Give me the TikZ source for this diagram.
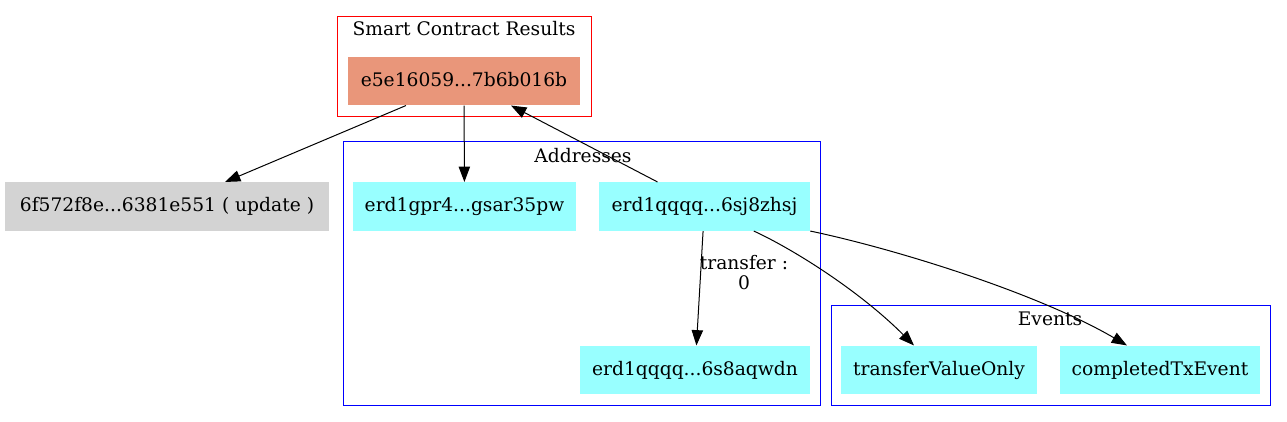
\documentclass[tikz,border=0pt]{standalone}
\usepackage{fontspec}
\setmainfont{DejaVu Serif}
\usetikzlibrary{arrows.meta}
\definecolor{salmonfill}{RGB}{233,150,122}
\definecolor{cyanfill}{RGB}{152,255,255}
\definecolor{grayfill}{RGB}{211,211,211}
\tikzset{
  box/.style={draw=none, inner sep=0pt, minimum height=36.4pt, text height=10.5pt, text depth=3pt, font=\fontsize{14}{15}\selectfont},
  addr/.style={box, fill=cyanfill},
  cluster/.style={line width=0.75pt},
  ctitle/.style={anchor=base, inner sep=0pt, font=\fontsize{14}{15}\selectfont},
  edgeline/.style={line width=0.75pt, -{Triangle[length=11.5pt,width=8.5pt]}},
}
\begin{document}
\begin{tikzpicture}[x=0.75pt,y=-0.75pt]
\useasboundingbox (0,0) rectangle (1287,421);
% clusters
\draw[cluster, draw=red] (337,16) rectangle (591,116);
\node[ctitle] (tscr) at (464,36) {Smart Contract Results};
\draw[cluster, draw=blue] (343,141) rectangle (820,405);
\node[ctitle] (taddr) at (583,162) {Addresses};
\draw[cluster, draw=blue] (831,305) rectangle (1270,405);
\node[ctitle] (tev) at (1050,325) {Events};
% nodes
\node[box, fill=salmonfill, minimum width=174pt] (e5e) at (464,81) {e5e16059...7b6b016b};
\node[box, fill=grayfill, minimum width=243pt] (upd) at (167,206.5) {6f572f8e...6381e551 ( update )};
\node[addr, minimum width=167.25pt] (gpr) at (464.5,206.5) {erd1gpr4...gsar35pw};
\node[addr, minimum width=158.25pt] (sj) at (704.5,206.5) {erd1qqqq...6sj8zhsj};
\node[addr, minimum width=172.5pt] (aq) at (695,370) {erd1qqqq...6s8aqwdn};
\node[addr, minimum width=147pt] (tvo) at (939,370) {transferValueOnly};
\node[addr, minimum width=150pt] (cte) at (1160,370) {completedTxEvent};
% edges
\draw[edgeline] (e5e) -- (upd);
\draw[edgeline] (e5e) -- (gpr);
\draw[edgeline] (sj) -- (e5e);
\draw[edgeline] (sj) -- (aq);
\node[inner sep=0pt, align=center, font=\fontsize{14}{15}\selectfont] (lbl) at (744,273) {transfer :\\0};
\draw[edgeline] ([xshift=37pt]sj.south) .. controls +(41,19) and +(-54,-54) .. ([xshift=-18.75pt]tvo.north);
\draw[edgeline] (sj.south east) .. controls +(90,19) and +(-87,-51) .. ([xshift=-24.75pt]cte.north);
\end{tikzpicture}
\end{document}
